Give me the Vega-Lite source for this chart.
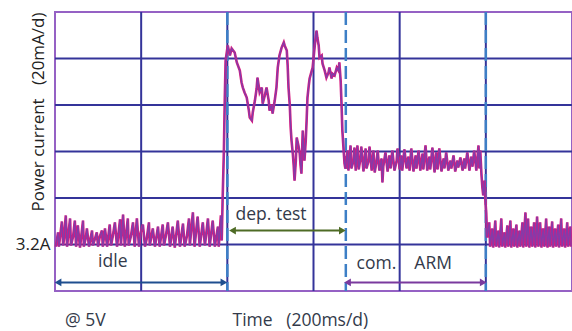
{
  "$schema": "https://vega.github.io/schema/vega-lite/v6.json",
  "width": 517,
  "height": 279,
  "autosize": {"type": "none"},
  "padding": {"left": 55, "top": 12, "right": 0, "bottom": 40},
  "background": "white",
  "config": {"view": {"stroke": "#9561c4", "strokeWidth": 2}, "font": "Open Sans"},
  "datasets": {
    "trace": [
      {"t":2,"i":3199.1},{"t":7,"i":3205.2},{"t":9,"i":3199.1},{"t":16,"i":3209.9},{"t":19,"i":3199.6},{"t":21,"i":3202.6},{"t":25,"i":3212.5},{"t":28,"i":3199.1},{"t":35,"i":3211.2},{"t":37,"i":3199.6},{"t":42,"i":3203.4},{"t":46,"i":3210.3},{"t":49,"i":3199.1},{"t":53,"i":3208.2},{"t":58,"i":3198.7},{"t":65,"i":3210.3},{"t":67,"i":3199.1},{"t":72,"i":3203.4},{"t":74,"i":3206.9},{"t":79,"i":3199.1},{"t":86,"i":3206.0},{"t":88,"i":3199.6},{"t":93,"i":3202.6},{"t":97,"i":3205.2},{"t":100,"i":3199.1},{"t":104,"i":3203.4},{"t":109,"i":3206.0},{"t":111,"i":3199.1},{"t":116,"i":3206.9},{"t":121,"i":3199.1},{"t":127,"i":3208.6},{"t":130,"i":3199.6},{"t":134,"i":3203.4},{"t":139,"i":3209.5},{"t":144,"i":3199.1},{"t":151,"i":3210.8},{"t":153,"i":3199.6},{"t":158,"i":3212.9},{"t":162,"i":3199.1},{"t":169,"i":3211.2},{"t":171,"i":3199.6},{"t":176,"i":3203.4},{"t":181,"i":3209.5},{"t":185,"i":3199.1},{"t":190,"i":3211.2},{"t":195,"i":3199.1},{"t":199,"i":3205.2},{"t":204,"i":3208.6},{"t":209,"i":3199.1},{"t":213,"i":3202.6},{"t":218,"i":3209.5},{"t":220,"i":3199.6},{"t":227,"i":3206.9},{"t":232,"i":3199.1},{"t":239,"i":3207.7},{"t":243,"i":3199.1},{"t":250,"i":3208.6},{"t":253,"i":3199.6},{"t":257,"i":3203.4},{"t":262,"i":3209.5},{"t":267,"i":3199.1},{"t":273,"i":3207.7},{"t":278,"i":3198.7},{"t":285,"i":3210.3},{"t":290,"i":3199.1},{"t":297,"i":3209.0},{"t":301,"i":3199.1},{"t":306,"i":3203.4},{"t":311,"i":3211.2},{"t":313,"i":3199.6},{"t":320,"i":3213.8},{"t":324,"i":3199.1},{"t":331,"i":3212.0},{"t":336,"i":3199.1},{"t":343,"i":3209.5},{"t":348,"i":3199.6},{"t":355,"i":3211.2},{"t":359,"i":3199.1},{"t":366,"i":3210.3},{"t":371,"i":3199.1},{"t":378,"i":3207.7},{"t":380,"i":3199.1},{"t":385,"i":3212.5},{"t":387,"i":3201.7},
      {"t":389,"i":3218.9},{"t":392,"i":3240.4},{"t":394,"i":3261.9},{"t":396,"i":3279.1},{"t":401,"i":3285.6},
      {"t":406,"i":3281.3},{"t":410,"i":3284.3},{"t":417,"i":3282.6},{"t":422,"i":3278.3},{"t":429,"i":3274.8},{"t":433,"i":3269.7},{"t":436,"i":3267.5},{"t":440,"i":3265.4},{"t":445,"i":3263.2},{"t":450,"i":3257.6},{"t":452,"i":3254.6},{"t":457,"i":3253.3},{"t":459,"i":3256.8},{"t":464,"i":3261.9},{"t":468,"i":3267.1},{"t":470,"i":3271.8},{"t":475,"i":3265.4},{"t":480,"i":3267.5},{"t":482,"i":3260.6},{"t":487,"i":3264.1},{"t":491,"i":3267.5},{"t":496,"i":3261.9},{"t":498,"i":3257.6},{"t":503,"i":3260.2},{"t":505,"i":3256.3},{"t":510,"i":3261.9},{"t":514,"i":3267.5},{"t":517,"i":3276.1},{"t":521,"i":3281.3},{"t":526,"i":3284.7},{"t":531,"i":3286.9},{"t":533,"i":3285.6},{"t":538,"i":3283.4},{"t":540,"i":3277.0},{"t":542,"i":3267.5},{"t":545,"i":3259.8},{"t":547,"i":3250.3},{"t":549,"i":3244.7},{"t":552,"i":3239.1},{"t":554,"i":3234.0},{"t":556,"i":3227.5},{"t":559,"i":3236.1},{"t":561,"i":3246.0},{"t":565,"i":3242.6},{"t":568,"i":3239.1},{"t":570,"i":3234.0},{"t":572,"i":3230.5},{"t":575,"i":3249.0},{"t":577,"i":3242.6},{"t":579,"i":3236.1},{"t":582,"i":3244.7},{"t":584,"i":3253.3},{"t":586,"i":3263.2},{"t":589,"i":3268.4},{"t":591,"i":3271.4},{"t":596,"i":3274.8},{"t":598,"i":3276.1},{"t":603,"i":3285.6},{"t":607,"i":3292.0},{"t":609,"i":3289.0},{"t":612,"i":3285.6},{"t":614,"i":3280.4},{"t":619,"i":3281.3},{"t":621,"i":3277.8},{"t":626,"i":3274.8},{"t":630,"i":3271.8},{"t":635,"i":3274.0},{"t":637,"i":3276.1},{"t":642,"i":3271.4},{"t":644,"i":3273.5},{"t":649,"i":3272.7},{"t":654,"i":3276.1},{"t":658,"i":3274.8},{"t":660,"i":3278.3},{"t":663,"i":3270.5},{"t":665,"i":3260.6},{"t":667,"i":3249.0},{"t":670,"i":3240.4},{"t":672,"i":3234.8},{"t":674,"i":3232.7},
      {"t":679,"i":3240.4},{"t":681,"i":3231.8},{"t":686,"i":3242.6},{"t":688,"i":3232.7},{"t":693,"i":3236.1},{"t":695,"i":3241.7},{"t":698,"i":3231.8},{"t":702,"i":3242.6},{"t":705,"i":3232.3},{"t":709,"i":3237.0},{"t":711,"i":3242.1},{"t":716,"i":3231.4},{"t":721,"i":3241.3},{"t":723,"i":3232.7},{"t":728,"i":3236.1},{"t":730,"i":3242.1},{"t":735,"i":3231.8},{"t":739,"i":3240.4},{"t":742,"i":3231.0},{"t":746,"i":3235.3},{"t":749,"i":3240.4},{"t":753,"i":3231.8},{"t":758,"i":3237.0},{"t":760,"i":3226.7},{"t":762,"i":3233.5},{"t":767,"i":3239.6},{"t":772,"i":3231.4},{"t":776,"i":3238.3},{"t":779,"i":3232.7},{"t":783,"i":3240.4},{"t":788,"i":3231.8},{"t":793,"i":3236.1},{"t":795,"i":3241.3},{"t":800,"i":3232.3},{"t":804,"i":3238.3},{"t":806,"i":3231.8},{"t":811,"i":3240.9},{"t":816,"i":3232.7},{"t":820,"i":3237.8},{"t":823,"i":3231.8},{"t":827,"i":3241.3},{"t":832,"i":3231.4},{"t":837,"i":3238.3},{"t":839,"i":3232.7},{"t":844,"i":3240.4},{"t":848,"i":3231.8},{"t":853,"i":3239.1},{"t":855,"i":3232.3},{"t":860,"i":3242.6},{"t":864,"i":3231.8},{"t":869,"i":3237.8},{"t":871,"i":3232.3},{"t":876,"i":3241.7},{"t":881,"i":3231.0},{"t":885,"i":3239.6},{"t":888,"i":3232.3},{"t":892,"i":3241.3},{"t":897,"i":3231.4},{"t":902,"i":3237.0},{"t":904,"i":3232.7},{"t":908,"i":3239.6},{"t":913,"i":3231.8},{"t":918,"i":3236.1},{"t":920,"i":3232.7},{"t":925,"i":3238.3},{"t":929,"i":3231.4},{"t":934,"i":3236.1},{"t":936,"i":3233.1},{"t":941,"i":3237.4},{"t":946,"i":3231.8},{"t":950,"i":3237.0},{"t":952,"i":3232.7},{"t":957,"i":3239.6},{"t":962,"i":3231.8},{"t":966,"i":3237.8},{"t":969,"i":3233.5},{"t":973,"i":3240.4},{"t":978,"i":3231.8},{"t":983,"i":3242.6},{"t":985,"i":3232.7},{"t":987,"i":3240.4},{"t":990,"i":3229.7},
      {"t":992,"i":3224.5},{"t":994,"i":3221.1},{"t":997,"i":3227.5},{"t":999,"i":3218.9},{"t":1001,"i":3213.3},{"t":1003,"i":3203.0},
      {"t":1008,"i":3209.5},{"t":1010,"i":3199.1},{"t":1015,"i":3206.9},{"t":1017,"i":3198.7},{"t":1022,"i":3210.3},{"t":1024,"i":3199.1},{"t":1029,"i":3206.0},{"t":1031,"i":3198.7},{"t":1036,"i":3211.2},{"t":1038,"i":3199.1},{"t":1043,"i":3205.2},{"t":1045,"i":3198.7},{"t":1050,"i":3208.2},{"t":1052,"i":3199.1},{"t":1057,"i":3210.3},{"t":1059,"i":3198.7},{"t":1064,"i":3206.9},{"t":1066,"i":3199.1},{"t":1071,"i":3208.6},{"t":1073,"i":3198.7},{"t":1078,"i":3206.0},{"t":1080,"i":3199.1},{"t":1085,"i":3209.5},{"t":1087,"i":3198.7},{"t":1092,"i":3213.8},{"t":1094,"i":3199.1},{"t":1098,"i":3211.2},{"t":1101,"i":3198.7},{"t":1105,"i":3207.7},{"t":1108,"i":3199.1},{"t":1112,"i":3209.5},{"t":1115,"i":3198.7},{"t":1119,"i":3212.0},{"t":1122,"i":3199.1},{"t":1126,"i":3209.5},{"t":1129,"i":3198.7},{"t":1133,"i":3206.9},{"t":1136,"i":3199.1},{"t":1140,"i":3211.2},{"t":1143,"i":3198.7},{"t":1147,"i":3207.7},{"t":1149,"i":3199.1},{"t":1154,"i":3209.9},{"t":1156,"i":3198.7},{"t":1161,"i":3206.9},{"t":1163,"i":3199.1},{"t":1168,"i":3208.6},{"t":1170,"i":3198.7},{"t":1175,"i":3211.2},{"t":1177,"i":3199.1},{"t":1182,"i":3206.9},{"t":1184,"i":3198.7},{"t":1189,"i":3209.5},{"t":1191,"i":3199.1},{"t":1196,"i":3207.7},{"t":1198,"i":3199.1}
    ],
    "vgrid": [{"t":200},{"t":400},{"t":600},{"t":800},{"t":1000}],
    "hgrid": [{"i":3200},{"i":3220},{"i":3240},{"i":3260},{"i":3280}],
    "markers": [{"t":400},{"t":675},{"t":1000}],
    "arrows": [
      {"seg":"idle","t1":7,"t2":392,"i":3183.7},
      {"seg":"dep. test","t1":412,"t2":667,"i":3206.0},
      {"seg":"com. ARM","t1":679,"t2":994,"i":3183.7}
    ],
    "labels": [
      {"label":"idle","t":100,"i":3192.3},
      {"label":"dep. test","t":419,"i":3212.9},
      {"label":"com.","t":700,"i":3191.8},
      {"label":"ARM","t":834,"i":3191.8},
      {"label":"@ 5V","t":23,"i":3166.9},
      {"label":"Time\u00a0\u00a0 (200ms/d)","t":412,"i":3166.9}
    ]
  },
  "layer": [
    {
      "data": {"name": "vgrid"},
      "mark": {"type": "rule", "color": "#34349a", "strokeWidth": 2},
      "encoding": {
        "x": {"field": "t", "type": "quantitative", "scale": {"domain": [0, 1200]}, "axis": null}
      }
    },
    {
      "data": {"name": "hgrid"},
      "mark": {"type": "rule", "color": "#34349a", "strokeWidth": 2},
      "encoding": {
        "y": {
          "field": "i", "type": "quantitative", "scale": {"domain": [3180, 3300]},
          "axis": {
            "values": [3200], "labelExpr": "'3.2A'", "ticks": false, "domain": false, "grid": false,
            "labelFontSize": 17, "labelColor": "#222222", "labelPadding": 5, "labelFont": "Open Sans",
            "title": "Power current\u00a0\u00a0 (20mA/d)", "titleFontSize": 17, "titleFontWeight": "normal",
            "titleColor": "#222222", "titleFont": "Open Sans", "titleAngle": -90, "titleAlign": "right",
            "titleBaseline": "middle", "titleX": -17, "titleY": 0
          }
        }
      }
    },
    {
      "data": {"name": "markers"},
      "mark": {"type": "rule", "color": "#3d7fc6", "strokeWidth": 2.5, "strokeDash": [13, 5]},
      "encoding": {
        "x": {"field": "t", "type": "quantitative", "scale": {"domain": [0, 1200]}, "axis": null}
      }
    },
    {
      "data": {"name": "trace"},
      "mark": {"type": "line", "color": "#d81b7f", "strokeWidth": 2.6, "interpolate": "linear"},
      "encoding": {
        "x": {"field": "t", "type": "quantitative", "scale": {"domain": [0, 1200]}, "axis": null},
        "y": {"field": "i", "type": "quantitative", "scale": {"domain": [3180, 3300]}}
      }
    },
    {
      "data": {"name": "trace"},
      "mark": {"type": "line", "color": "#7b3fae", "strokeWidth": 1.3, "opacity": 0.9},
      "encoding": {
        "x": {"field": "t", "type": "quantitative", "scale": {"domain": [0, 1200]}, "axis": null},
        "y": {"field": "i", "type": "quantitative", "scale": {"domain": [3180, 3300]}}
      }
    },
    {
      "data": {"name": "arrows"},
      "mark": {"type": "rule", "strokeWidth": 2},
      "encoding": {
        "x": {"field": "t1", "type": "quantitative", "scale": {"domain": [0, 1200]}, "axis": null},
        "x2": {"field": "t2"},
        "y": {"field": "i", "type": "quantitative", "scale": {"domain": [3180, 3300]}},
        "color": {"field": "seg", "type": "nominal", "scale": {"domain": ["idle", "dep. test", "com. ARM"], "range": ["#1f4f8f", "#4e6b25", "#7a3a9e"]}, "legend": null}
      }
    },
    {
      "data": {"name": "arrows"},
      "transform": [{"fold": ["t1", "t2"], "as": ["end", "tt"]}],
      "mark": {"type": "point", "filled": true, "size": 60, "opacity": 1},
      "encoding": {
        "x": {"field": "tt", "type": "quantitative", "scale": {"domain": [0, 1200]}, "axis": null},
        "y": {"field": "i", "type": "quantitative", "scale": {"domain": [3180, 3300]}},
        "shape": {"field": "end", "type": "nominal", "scale": {"domain": ["t1", "t2"], "range": ["triangle-left", "triangle-right"]}, "legend": null},
        "color": {"field": "seg", "type": "nominal", "scale": {"domain": ["idle", "dep. test", "com. ARM"], "range": ["#1f4f8f", "#4e6b25", "#7a3a9e"]}, "legend": null}
      }
    },
    {
      "data": {"name": "labels"},
      "mark": {"type": "text", "align": "left", "baseline": "middle", "fontSize": 17.5, "color": "#333a4a", "font": "Open Sans"},
      "encoding": {
        "x": {"field": "t", "type": "quantitative", "scale": {"domain": [0, 1200]}, "axis": null},
        "y": {"field": "i", "type": "quantitative", "scale": {"domain": [3180, 3300]}},
        "text": {"field": "label", "type": "nominal"}
      }
    }
  ]
}
